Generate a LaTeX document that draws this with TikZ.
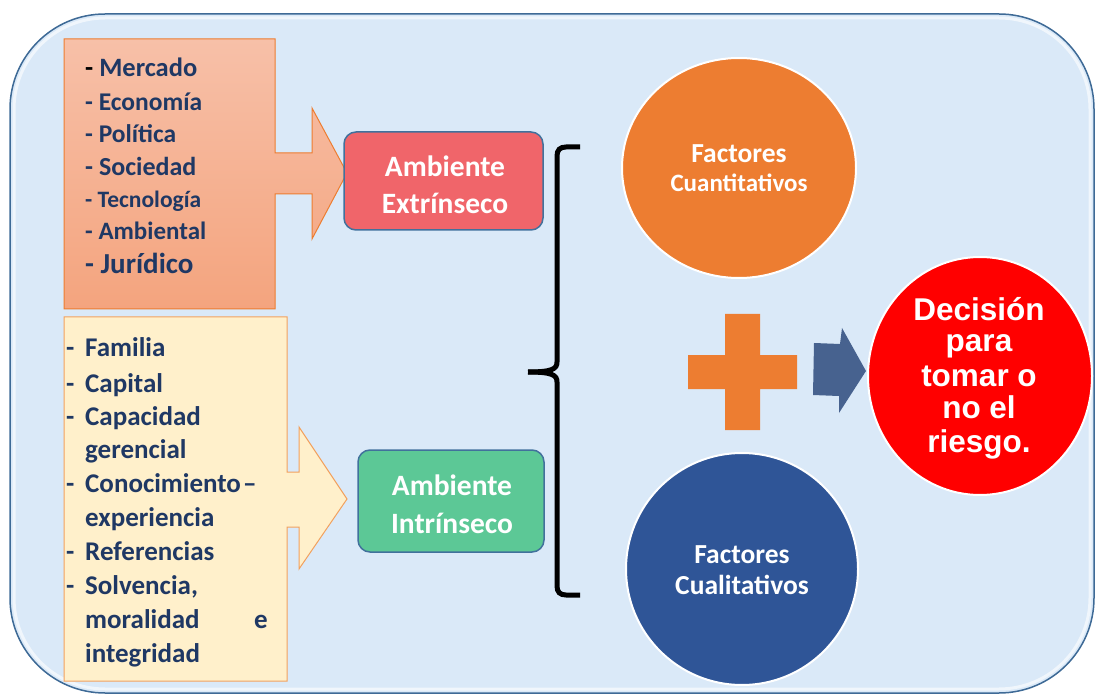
\documentclass[tikz,border=0pt]{standalone}
\usepackage{fontspec}
\setmainfont{Carlito}
\newfontfamily\arialf{Liberation Sans}
\usetikzlibrary{shapes.geometric}
\definecolor{bgfill}{HTML}{DAE9F8}
\definecolor{bgline}{HTML}{3E6A96}
\definecolor{navy}{HTML}{1F3864}
\definecolor{salmonT}{HTML}{F7C0A8}
\definecolor{salmonB}{HTML}{F4A47E}
\definecolor{orline}{HTML}{ED7D31}
\definecolor{cream}{HTML}{FFF0CB}
\definecolor{creamline}{HTML}{F2A15E}
\definecolor{extred}{HTML}{F0656A}
\definecolor{intgreen}{HTML}{5CC896}
\definecolor{boxline}{HTML}{41719C}
\definecolor{orangeC}{HTML}{ED7D31}
\definecolor{blueC}{HTML}{2F5597}
\definecolor{arrowblue}{HTML}{47628F}
\tikzset{
  listtxt/.style={anchor=base west, inner sep=0, text=navy, font=\bfseries},
  wtxt/.style={anchor=base, inner sep=0, text=white, font=\bfseries},
  dtxt/.style={anchor=base, inner sep=0, text=white, font=\arialf\bfseries\fontsize{31.5}{31.5}\selectfont},
  ambbox/.style={rectangle, rounded corners=12, draw=boxline, line width=1.5, inner sep=0},
  circ/.style={ellipse, draw=white, line width=2, inner sep=0},
}
\begin{document}
\begin{tikzpicture}[x=1pt,y=-1pt]
\useasboundingbox (0,0) rectangle (1096,695);
\clip (0,0) rectangle (1096,695);
% background panel
\path[fill=bgfill, draw=bgline, line width=1.5, rounded corners=95] (10,14) rectangle (1094,693);
\draw[white, opacity=.6, line width=3, rounded corners=91] (14,18) rectangle (1090,689);

% top callout (orange)
\path[draw=orline, line width=1, top color=salmonT, bottom color=salmonB]
  (64,39) -- (275,39) -- (275,153) -- (312,153) -- (312,108) -- (347,173) -- (312,239)
  -- (312,194) -- (275,194) -- (275,309) -- (64,309) -- cycle;
% bottom callout (cream)
\path[draw=creamline, line width=1, fill=cream]
  (64,317) -- (287,317) -- (287,472) -- (299,472) -- (299,427) -- (347,499) -- (299,569)
  -- (299,527) -- (287,527) -- (287,681) -- (64,681) -- cycle;

% top list
\node[listtxt, font=\bfseries\fontsize{26.5}{26.5}\selectfont] (e1) at (85,77) {{\color{black}-} Mercado};
\node[listtxt, font=\bfseries\fontsize{25.5}{25.5}\selectfont] (e2) at (85,111) {- Economía};
\node[listtxt, font=\bfseries\fontsize{25.5}{25.5}\selectfont] (e3) at (85,143) {- Política};
\node[listtxt, font=\bfseries\fontsize{26}{26}\selectfont] (e4) at (85,176) {- Sociedad};
\node[listtxt, font=\bfseries\fontsize{23.5}{23.5}\selectfont] (e5) at (85,208) {- Tecnología};
\node[listtxt, font=\bfseries\fontsize{25}{25}\selectfont] (e6) at (85,240) {- Ambiental};
\node[listtxt, font=\bfseries\fontsize{29}{29}\selectfont] (e7) at (85,274) {- Jurídico};

% bottom list
\foreach \y [count=\i] in {356,392,425,492,560,594}
  \node[listtxt, font=\bfseries\fontsize{27}{27}\selectfont] (d\i) at (66,\y) {-};
\foreach \t/\y [count=\i] in {Familia/356, Capital/392, Capacidad/425, gerencial/458,
    Conocimiento\hspace{2pt}–/492, experiencia/526, Referencias/560, {Solvencia,}/594,
    moralidad/628, integridad/662}
  \node[listtxt, font=\bfseries\fontsize{27}{27}\selectfont] (b\i) at (85,\y) {\t};
\node[anchor=base east, inner sep=0, text=navy, font=\bfseries\fontsize{27}{27}\selectfont] (be) at (268,628) {e};

% ambiente boxes
\node[ambbox, fill=extred, minimum width=199, minimum height=98] (ext) at (443.5,181) {};
\node[wtxt, font=\bfseries\fontsize{29.5}{29.5}\selectfont] (ext1) at (445,177) {Ambiente};
\node[wtxt, font=\bfseries\fontsize{29.5}{29.5}\selectfont] (ext2) at (445,214) {Extrínseco};
\node[ambbox, fill=intgreen, minimum width=186, minimum height=102] (int) at (451,501) {};
\node[wtxt, font=\bfseries\fontsize{29.5}{29.5}\selectfont] (int1) at (452,495) {Ambiente};
\node[wtxt, font=\bfseries\fontsize{29.5}{29.5}\selectfont] (int2) at (452,533) {Intrínseco};

% brace
\draw[line width=5] (580,147) -- (566,147) .. controls (560,147) and (557,150) .. (557,156)
  -- (557,362) .. controls (557,369) and (552,372) .. (528,372);
\draw[line width=5] (528,372) .. controls (552,372) and (557,375) .. (557,382)
  -- (557,586) .. controls (557,592) and (560,595) .. (566,595) -- (580,595);

% circles
\node[circ, fill=orangeC, minimum width=234, minimum height=220] (cuan) at (739,168) {};
\node[wtxt, font=\bfseries\fontsize{27.5}{27.5}\selectfont] (cuan1) at (739,163) {Factores};
\node[wtxt, font=\bfseries\fontsize{25}{25}\selectfont] (cuan2) at (739,192) {Cuantitativos};
\node[circ, fill=blueC, minimum width=232, minimum height=232] (cual) at (742,569) {};
\node[wtxt, font=\bfseries\fontsize{27.5}{27.5}\selectfont] (cual1) at (742,563) {Factores};
\node[wtxt, font=\bfseries\fontsize{27.5}{27.5}\selectfont] (cual2) at (742,594) {Cualitativos};
\node[circ, fill=red, minimum width=224, minimum height=238] (dec) at (980,376) {};
\node[dtxt] (dec1) at (979,320) {Decisión};
\node[dtxt] (dec2) at (979,352) {para};
\node[dtxt] (dec3) at (979,386) {tomar o};
\node[dtxt] (dec4) at (979,418) {no el};
\node[dtxt] (dec5) at (979,452) {riesgo.};

% plus sign
\fill[orangeC] (725,314) -- (760,314) -- (760,355) -- (797,355) -- (797,389) -- (760,389)
  -- (760,430) -- (725,430) -- (725,389) -- (688,389) -- (688,355) -- (725,355) -- cycle;
% blue arrow
\fill[arrowblue] (814,343) -- (840,344) -- (842,328) -- (866,371) -- (839,413) -- (839,396)
  -- (813,395) -- cycle;
\end{tikzpicture}
\end{document}
